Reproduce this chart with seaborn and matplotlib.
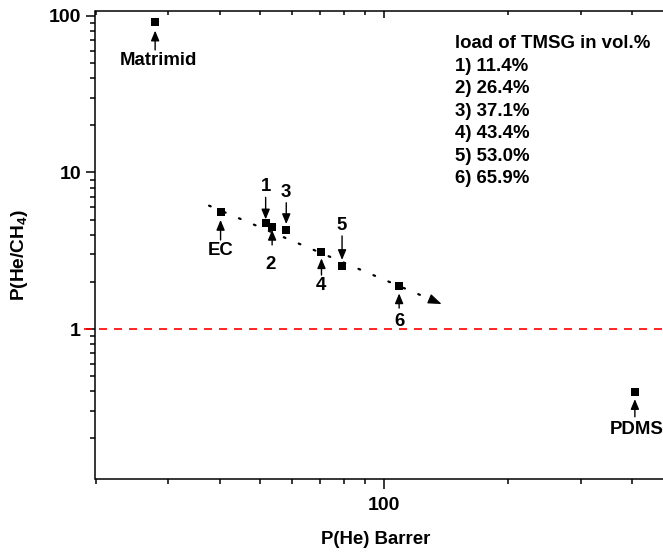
import numpy as np
import pandas as pd
import matplotlib
matplotlib.use("Agg")
import matplotlib.pyplot as plt
import seaborn as sns
from matplotlib.ticker import NullFormatter, FuncFormatter, LogLocator

# ---------------- data ----------------
materials = ["Matrimid", "EC", "1", "2", "3", "4", "5", "6", "PDMS"]
p_he = [27.9, 40.2, 51.7, 53.6, 58.0, 70.6, 79.2, 108.9, 406.0]          # Barrer
selectivity = [91.6, 5.62, 4.73, 4.51, 4.27, 3.09, 2.54, 1.88, 0.397]     # He/CH4
trend_x = [37.7, 138.0]
trend_y = [6.14, 1.445]
ref_selectivity = 1.0
legend_title = "load of TMSG in vol.%"
legend_lines = ["1) 11.4%", "2) 26.4%", "3) 37.1%", "4) 43.4%", "5) 53.0%", "6) 65.9%"]
x_label = "P(He) Barrer"
y_label = "P(He/CH$_4$)"

# label layout: (text dx px, text dy px (down +), arrow tail px, arrow tip px)
label_layout = {
    "Matrimid": (3.4, 39, 28, 8.7),
    "EC": (0, 38.5, 28.3, 8.3),
    "1": (0, -37.0, -26, -4),
    "2": (-1.6, 37.5, 18.3, 3.3),
    "3": (0, -38.2, -27.6, -6.3),
    "4": (-0.7, 33.6, 22.7, 6),
    "5": (0, -39.9, -29.7, -5.7),
    "6": (0, 35, 22, 7.3),
    "PDMS": (2, 37.5, 25, 7.3),
}

df = pd.DataFrame({"material": materials, "P_He": p_he, "sel": selectivity})

# ---------------- style ----------------
sns.set_style("ticks")
plt.rcParams["font.family"] = ["Liberation Sans", "DejaVu Sans"]
plt.rcParams["font.weight"] = "bold"
plt.rcParams["axes.labelweight"] = "bold"
plt.rcParams["mathtext.fontset"] = "custom"
plt.rcParams["mathtext.rm"] = "Liberation Sans:bold"
plt.rcParams["mathtext.it"] = "Liberation Sans:bold"
plt.rcParams["mathtext.bf"] = "Liberation Sans:bold"
plt.rcParams["mathtext.default"] = "rm"
for k in ["axes.edgecolor", "xtick.color", "ytick.color", "text.color", "axes.labelcolor"]:
    plt.rcParams[k] = "black"

FS = 13.4
W, H = 663, 554
fig = plt.figure(figsize=(W / 100, H / 100), dpi=100)
ax_l, ax_r, ax_t, ax_b = 95.5, 663.0, 11.0, 479.3
ax = fig.add_axes([ax_l / W, 1 - ax_b / H, (ax_r - ax_l) / W, (ax_b - ax_t) / H])

ax.set_xscale("log")
ax.set_yscale("log")
xlim = (20, 475)
ylim = (0.1096, 107.6)

# top axis (inward ticks, no labels)
ax2 = ax.twiny()
ax2.set_xscale("log")

# reference line at selectivity 1 (extends slightly left of the axis)
ax.plot([18.8, xlim[1]], [ref_selectivity, ref_selectivity], color="red",
        lw=1.2, linestyle=(0, (4.8, 4.2)), clip_on=False, zorder=4)

# trend line (dotted) with arrow head
sns.lineplot(x=trend_x, y=trend_y, ax=ax, color="black", lw=1.6,
             linestyle=(0, (0.8, 6.5)), dash_capstyle="round", sort=False,
             estimator=None, legend=False, zorder=2)
lx0, lx1 = np.log10(trend_x)
ly0, ly1 = np.log10(trend_y)
f = 0.95
ax.annotate("", xy=(trend_x[1], trend_y[1]),
            xytext=(10 ** (lx0 + f * (lx1 - lx0)), 10 ** (ly0 + f * (ly1 - ly0))),
            arrowprops=dict(arrowstyle="-|>,head_length=0.75,head_width=0.28",
                            color="black", lw=0.8, shrinkA=0, shrinkB=0,
                            mutation_scale=11))

# points
sns.scatterplot(data=df, x="P_He", y="sel", marker="s", s=32, color="black",
                edgecolor="black", linewidth=0, ax=ax, legend=False, zorder=5)

# labels with arrows
for name, xv, yv in zip(materials, p_he, selectivity):
    dx, dy, tail, tip = label_layout[name]
    ax.annotate("", xy=(xv, yv), xycoords="data",
                xytext=(0, -tail), textcoords="offset pixels",
                arrowprops=dict(arrowstyle="-|>,head_length=0.6,head_width=0.25",
                                color="black", lw=1.0, shrinkA=0,
                                shrinkB=abs(tip) * 0.72, mutation_scale=10))
    ax.annotate(name, xy=(xv, yv), xycoords="data", xytext=(dx, -dy),
                textcoords="offset pixels", ha="center", va="center",
                fontsize=FS, fontweight="bold")

# legend text block
ax_h = ax_b - ax_t
ax_w = ax_r - ax_l
tx = (455 - ax_l) / ax_w
y0, step = 43.5, 22.55
for i, line in enumerate([legend_title] + legend_lines):
    ty = 1 - (y0 + i * step - ax_t) / ax_h
    ax.text(tx, ty, line, transform=ax.transAxes, ha="left", va="center",
            fontsize=FS, fontweight="bold")

# axes limits / ticks
for a in (ax, ax2):
    a.set_xlim(*xlim)
ax.set_ylim(*ylim)

sub = np.arange(2, 10)
ax.xaxis.set_major_locator(LogLocator(base=10))
ax.xaxis.set_minor_locator(LogLocator(base=10, subs=sub))
ax.yaxis.set_major_locator(LogLocator(base=10))
ax.yaxis.set_minor_locator(LogLocator(base=10, subs=sub))
fmt = FuncFormatter(lambda v, p: f"{v:g}")
ax.xaxis.set_major_formatter(fmt)
ax.yaxis.set_major_formatter(fmt)
ax.xaxis.set_minor_formatter(NullFormatter())
ax.yaxis.set_minor_formatter(NullFormatter())
ax2.xaxis.set_major_locator(LogLocator(base=10))
ax2.xaxis.set_minor_locator(LogLocator(base=10, subs=sub))
ax2.xaxis.set_major_formatter(NullFormatter())
ax2.xaxis.set_minor_formatter(NullFormatter())

ax.tick_params(axis="both", which="major", direction="out", length=6.5, width=1.1,
               labelsize=FS + 0.6, pad=4)
ax.tick_params(axis="both", which="minor", direction="out", length=3.8, width=1.1)
ax.tick_params(axis="x", which="major", length=7.5, pad=5)
ax2.tick_params(axis="x", which="major", direction="in", length=5, width=1.1,
                labeltop=False)
ax2.tick_params(axis="x", which="minor", direction="in", length=3, width=1.1,
                labeltop=False)

for a in (ax, ax2):
    a.spines["right"].set_visible(False)
    for s in a.spines.values():
        s.set_linewidth(1.1)
ax2.spines["left"].set_visible(False)
ax2.spines["bottom"].set_visible(False)
ax.spines["top"].set_visible(False)

ax.set_xlabel(x_label, fontsize=FS, fontweight="bold")
ax.set_ylabel(y_label, fontsize=FS + 0.4, fontweight="bold")
ax.xaxis.set_label_coords((376 - ax_l) / ax_w, -(531 - ax_b) / ax_h)
ax.yaxis.set_label_coords((30 - ax_l) / ax_w, 1 - (255 - ax_t) / ax_h)

fig.savefig("out.png", dpi=100)
